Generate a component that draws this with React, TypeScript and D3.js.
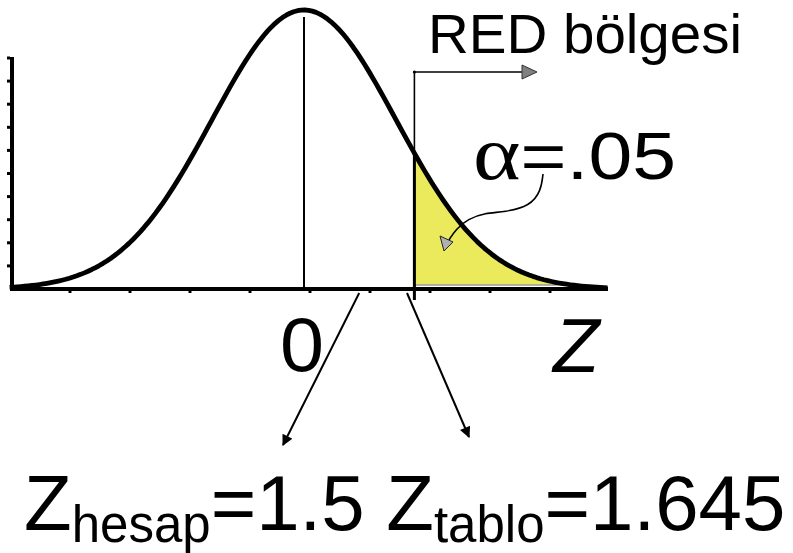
import React from "react";
import * as d3 from "d3";

// ---- data ----
const zDomain: [number, number] = [-3.2, 3.3];
const curveSteps = 160; // sampling of the standard normal density
const critZDrawn = 1.2; // where Z_tablo is drawn on the curve's z axis
const hesapZDrawn = 0.6; // where the Z_hesap arrow leaves the axis
const leftTicks = [1, 2, 3, 4, 5, 6, 7, 8, 9, 10];
const bottomTicks = [1, 2, 3, 4, 5, 6, 7, 8, 9];
const alphaLabel = "=.05";
const regionLabel = "RED bölgesi";
const zeroLabel = "0";
const axisLabel = "Z";
const hesapSub = "hesap";
const hesapVal = "=1.5";
const tabloSub = "tablo";
const tabloVal = "=1.645";

const W = 793;
const H = 553;

const pdf = (z: number) => Math.exp(-z * z / 2) / Math.sqrt(2 * Math.PI);

export default function App() {
  const x = d3.scaleLinear().domain(zDomain).range([9.6, 607.6]);
  const y = d3.scaleLinear().domain([0, pdf(0)]).range([289, 10]);
  const yTick = d3.scaleLinear().domain([0, 10]).range([289, 58]);
  const xTick = d3.scaleLinear().domain([0, 10]).range([10, 610]);

  const zs = d3.range(curveSteps + 1).map(
    (i) => zDomain[0] + ((zDomain[1] - zDomain[0]) * i) / curveSteps
  );
  const line = d3
    .line<number>()
    .x((z) => x(z))
    .y((z) => y(pdf(z)));

  const tailZ = zs.filter((z) => z >= critZDrawn && y(pdf(z)) < 285);
  const tail = [critZDrawn, ...tailZ];
  const area = d3
    .area<number>()
    .x((z) => x(z))
    .y0(285)
    .y1((z) => Math.min(285, y(pdf(z))));

  const xc = x(critZDrawn);
  const yc = y(pdf(critZDrawn));
  const xh = x(hesapZDrawn);

  const alphaArrow = d3.line<[number, number]>().curve(d3.curveBasis)([
    [543, 174],
    [541, 191],
    [530, 206],
    [505, 212],
    [485, 213],
    [468, 219],
    [456, 229],
    [449, 240],
  ]);

  const sans = "'Liberation Sans', Arial, sans-serif";

  return (
    <svg
      width={W}
      height={H}
      style={{ position: "absolute", left: 0, top: 0, background: "#fff" }}
    >
      <defs>
        <marker
          id="blackHead"
          viewBox="0 0 10 10"
          refX="9"
          refY="5"
          markerWidth="13"
          markerHeight="11"
          markerUnits="userSpaceOnUse"
          orient="auto"
        >
          <path d="M0,0 L10,5 L0,10 Z" fill="#000" />
        </marker>
      </defs>

      {/* yellow rejection region */}
      <path d={area(tail) || ""} fill="#EAEA5C" stroke="none" />
      <line x1={xc} x2={x(tail[tail.length - 1])} y1={285} y2={285} stroke="#999" strokeWidth={1.5} />

      {/* mean line */}
      <line x1={x(0)} x2={x(0)} y1={17} y2={289} stroke="#000" strokeWidth={2} />

      {/* axes */}
      <line x1={12} x2={12} y1={57} y2={291} stroke="#000" strokeWidth={4} />
      <line x1={10} x2={608} y1={289} y2={289} stroke="#000" strokeWidth={4} />
      {leftTicks.map((t) => (
        <line key={"l" + t} x1={7} x2={10} y1={yTick(t)} y2={yTick(t)} stroke="#000" strokeWidth={3} />
      ))}
      {bottomTicks.map((t) => (
        <line key={"b" + t} x1={xTick(t)} x2={xTick(t)} y1={290} y2={293} stroke="#000" strokeWidth={3} />
      ))}

      {/* normal curve */}
      <path d={line(zs) || ""} fill="none" stroke="#000" strokeWidth={4.8} strokeLinejoin="round" />

      {/* critical line */}
      <line x1={xc} x2={xc} y1={72} y2={yc} stroke="#000" strokeWidth={1.6} />
      <line x1={xc} x2={xc} y1={yc} y2={300} stroke="#000" strokeWidth={3} />
      <circle cx={xc} cy={72} r={1.6} fill="#000" />
      <line x1={xc} x2={522} y1={72} y2={72} stroke="#000" strokeWidth={1.6} />
      <path d="M522,65 L537,72 L522,79 Z" fill="#808080" stroke="#333" strokeWidth={1} />

      {/* alpha arrow */}
      <path d={alphaArrow || ""} fill="none" stroke="#000" strokeWidth={1.6} />
      <path d="M440,236 L453,242 L444,251 Z" fill="#b0b0b0" stroke="#222" strokeWidth={1} />

      {/* Z arrows */}
      <line x1={xh} x2={283} y1={293} y2={445} stroke="#000" strokeWidth={2} markerEnd="url(#blackHead)" />
      <line x1={407} x2={469} y1={293} y2={437} stroke="#000" strokeWidth={2} markerEnd="url(#blackHead)" />

      {/* texts */}
      <text x={428} y={53} fontFamily={sans} fontSize={55} textLength={314} lengthAdjust="spacingAndGlyphs">
        {regionLabel}
      </text>
      <text x={473} y={179} fontSize={66} textLength={203} lengthAdjust="spacingAndGlyphs">
        <tspan fontFamily="'Liberation Serif', 'Times New Roman', serif" fontSize={76}>α</tspan>
        <tspan fontFamily={sans}>{alphaLabel}</tspan>
      </text>
      <text x={280} y={371} fontFamily={sans} fontSize={76} textLength={44} lengthAdjust="spacingAndGlyphs">
        {zeroLabel}
      </text>
      <text x={553} y={372} fontFamily={sans} fontSize={76} fontStyle="italic">
        {axisLabel}
      </text>
      <text x={24} y={530} fontFamily={sans} fontSize={78}>
        Z
        <tspan fontSize={51} dy={12}>{hesapSub}</tspan>
        <tspan dy={-12}>{hesapVal}</tspan>
        <tspan> Z</tspan>
        <tspan fontSize={51} dy={12}>{tabloSub}</tspan>
        <tspan dy={-12}>{tabloVal}</tspan>
      </text>
    </svg>
  );
}
